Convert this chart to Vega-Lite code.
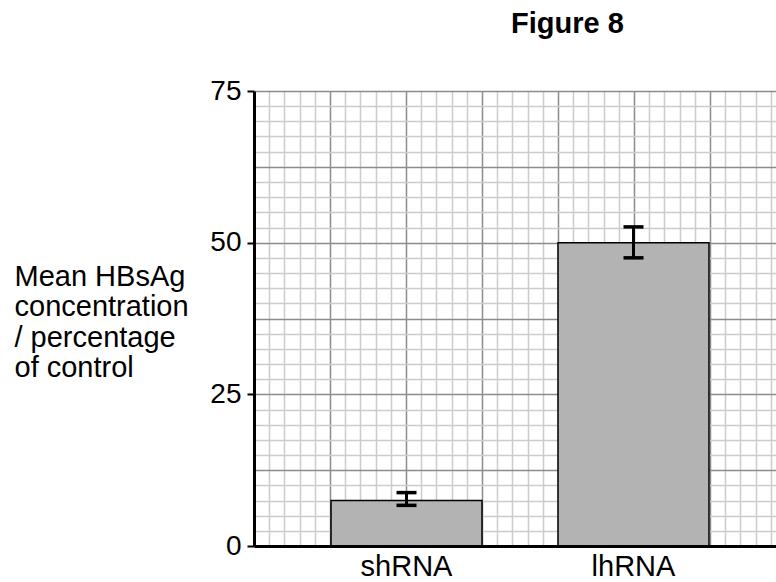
{
  "$schema": "https://vega.github.io/schema/vega-lite/v6.json",
  "width": 522,
  "height": 455,
  "autosize": "none",
  "padding": {"left": 254, "top": 91, "right": 0, "bottom": 36},
  "background": "white",
  "config": {"font": "Liberation Sans", "view": {"stroke": null}},
  "title": {"text": "Figure 8", "fontSize": 29, "fontWeight": "bold", "anchor": "start", "frame": "group", "dx": 257, "offset": 0, "baseline": "alphabetic", "dy": -15, "color": "#000"},
  "data": {"values": [
    {"treatment": "shRNA", "mean": 7.5, "lo": 6.7, "hi": 8.8},
    {"treatment": "lhRNA", "mean": 50, "lo": 47.5, "hi": 52.6}
  ]},
  "resolve": {"scale": {"x": "independent"}, "axis": {"x": "independent"}},
  "layer": [
    {
      "mark": {"type": "rule", "opacity": 0},
      "encoding": {
        "x": {"datum": 0, "type": "quantitative",
          "scale": {"domain": [0, 34.34], "nice": false, "zero": false},
          "axis": {"orient": "top", "values": [1,2,3,4,5,6,7,8,9,10,11,12,13,14,15,16,17,18,19,20,21,22,23,24,25,26,27,28,29,30,31,32,33,34],
            "grid": true, "gridColor": {"condition": {"test": "datum.value % 5 === 0", "value": "#8c8c8c"}, "value": "#cccccc"},
            "gridWidth": 1.5, "labels": false, "ticks": false, "domain": false, "title": null, "zindex": 0}}
      }
    },
    {
      "layer": [
        {
          "mark": {"type": "bar", "fill": "#b3b3b3", "stroke": "#000", "strokeWidth": 1.5},
          "encoding": {
            "x": {"field": "treatment", "type": "nominal", "sort": null,
              "scale": {"type": "band", "paddingInner": 0.3348, "paddingOuter": 0.3172, "align": 0.5347, "round": false},
              "axis": {"title": null, "ticks": false, "domain": true, "domainColor": "#000", "domainWidth": 3, "labelFontSize": 29, "labelColor": "#000", "labelAngle": 0, "labelPadding": 6, "grid": false, "zindex": 1}},
            "y": {"field": "mean", "type": "quantitative",
              "scale": {"domain": [0, 75], "nice": false},
              "axis": {"values": [0,2.5,5,7.5,10,12.5,15,17.5,20,22.5,25,27.5,30,32.5,35,37.5,40,42.5,45,47.5,50,52.5,55,57.5,60,62.5,65,67.5,70,72.5,75],
                "grid": true,
                "gridColor": {"condition": {"test": "datum.value % 12.5 === 0", "value": "#8c8c8c"}, "value": "#cccccc"},
                "gridOpacity": {"condition": {"test": "datum.value === 0", "value": 0}, "value": 1},
                "gridWidth": 1.5,
                "labelExpr": "datum.value % 25 === 0 ? datum.label : ''",
                "labelOverlap": false, "labelFlush": false,
                "labelFontSize": 28, "labelColor": "#000", "labelPadding": 6,
                "tickSize": 7, "tickColor": "#000", "tickWidth": 2,
                "tickOpacity": {"condition": {"test": "datum.value % 25 === 0", "value": 1}, "value": 0},
                "domainColor": "#000", "domainWidth": 3,
                "title": ["Mean HBsAg", "concentration", "/ percentage", "of control"],
                "titleAngle": 0, "titleAlign": "left", "titleBaseline": "alphabetic",
                "titleX": -240, "titleY": 194, "titleFontSize": 29, "titleFontWeight": "normal",
                "titleLineHeight": 30.5, "titleColor": "#000", "zindex": 0}}
          }
        },
        {
          "mark": {"type": "rule", "stroke": "#000", "strokeWidth": 3},
          "encoding": {
            "x": {"field": "treatment", "type": "nominal", "sort": null},
            "y": {"field": "lo", "type": "quantitative",
              "scale": {"domain": [0, 75], "nice": false},
              "axis": {"values": [0,2.5,5,7.5,10,12.5,15,17.5,20,22.5,25,27.5,30,32.5,35,37.5,40,42.5,45,47.5,50,52.5,55,57.5,60,62.5,65,67.5,70,72.5,75],
                "grid": true,
                "gridColor": {"condition": {"test": "datum.value % 12.5 === 0", "value": "#8c8c8c"}, "value": "#cccccc"},
                "gridOpacity": {"condition": {"test": "datum.value === 0", "value": 0}, "value": 1},
                "gridWidth": 1.5,
                "labelExpr": "datum.value % 25 === 0 ? datum.label : ''",
                "labelOverlap": false, "labelFlush": false,
                "labelFontSize": 28, "labelColor": "#000", "labelPadding": 6,
                "tickSize": 7, "tickColor": "#000", "tickWidth": 2,
                "tickOpacity": {"condition": {"test": "datum.value % 25 === 0", "value": 1}, "value": 0},
                "domainColor": "#000", "domainWidth": 3,
                "title": ["Mean HBsAg", "concentration", "/ percentage", "of control"],
                "titleAngle": 0, "titleAlign": "left", "titleBaseline": "alphabetic",
                "titleX": -240, "titleY": 194, "titleFontSize": 29, "titleFontWeight": "normal",
                "titleLineHeight": 30.5, "titleColor": "#000", "zindex": 0}},
            "y2": {"field": "hi"}
          }
        },
        {
          "mark": {"type": "tick", "color": "#000", "size": 20, "thickness": 3.5, "orient": "horizontal", "opacity": 1},
          "encoding": {
            "x": {"field": "treatment", "type": "nominal", "sort": null},
            "y": {"field": "lo", "type": "quantitative",
              "scale": {"domain": [0, 75], "nice": false},
              "axis": {"values": [0,2.5,5,7.5,10,12.5,15,17.5,20,22.5,25,27.5,30,32.5,35,37.5,40,42.5,45,47.5,50,52.5,55,57.5,60,62.5,65,67.5,70,72.5,75],
                "grid": true,
                "gridColor": {"condition": {"test": "datum.value % 12.5 === 0", "value": "#8c8c8c"}, "value": "#cccccc"},
                "gridOpacity": {"condition": {"test": "datum.value === 0", "value": 0}, "value": 1},
                "gridWidth": 1.5,
                "labelExpr": "datum.value % 25 === 0 ? datum.label : ''",
                "labelOverlap": false, "labelFlush": false,
                "labelFontSize": 28, "labelColor": "#000", "labelPadding": 6,
                "tickSize": 7, "tickColor": "#000", "tickWidth": 2,
                "tickOpacity": {"condition": {"test": "datum.value % 25 === 0", "value": 1}, "value": 0},
                "domainColor": "#000", "domainWidth": 3,
                "title": ["Mean HBsAg", "concentration", "/ percentage", "of control"],
                "titleAngle": 0, "titleAlign": "left", "titleBaseline": "alphabetic",
                "titleX": -240, "titleY": 194, "titleFontSize": 29, "titleFontWeight": "normal",
                "titleLineHeight": 30.5, "titleColor": "#000", "zindex": 0}}
          }
        },
        {
          "mark": {"type": "tick", "color": "#000", "size": 20, "thickness": 3.5, "orient": "horizontal", "opacity": 1},
          "encoding": {
            "x": {"field": "treatment", "type": "nominal", "sort": null},
            "y": {"field": "hi", "type": "quantitative",
              "scale": {"domain": [0, 75], "nice": false},
              "axis": {"values": [0,2.5,5,7.5,10,12.5,15,17.5,20,22.5,25,27.5,30,32.5,35,37.5,40,42.5,45,47.5,50,52.5,55,57.5,60,62.5,65,67.5,70,72.5,75],
                "grid": true,
                "gridColor": {"condition": {"test": "datum.value % 12.5 === 0", "value": "#8c8c8c"}, "value": "#cccccc"},
                "gridOpacity": {"condition": {"test": "datum.value === 0", "value": 0}, "value": 1},
                "gridWidth": 1.5,
                "labelExpr": "datum.value % 25 === 0 ? datum.label : ''",
                "labelOverlap": false, "labelFlush": false,
                "labelFontSize": 28, "labelColor": "#000", "labelPadding": 6,
                "tickSize": 7, "tickColor": "#000", "tickWidth": 2,
                "tickOpacity": {"condition": {"test": "datum.value % 25 === 0", "value": 1}, "value": 0},
                "domainColor": "#000", "domainWidth": 3,
                "title": ["Mean HBsAg", "concentration", "/ percentage", "of control"],
                "titleAngle": 0, "titleAlign": "left", "titleBaseline": "alphabetic",
                "titleX": -240, "titleY": 194, "titleFontSize": 29, "titleFontWeight": "normal",
                "titleLineHeight": 30.5, "titleColor": "#000", "zindex": 0}}
          }
        }
      ]
    }
  ]
}
